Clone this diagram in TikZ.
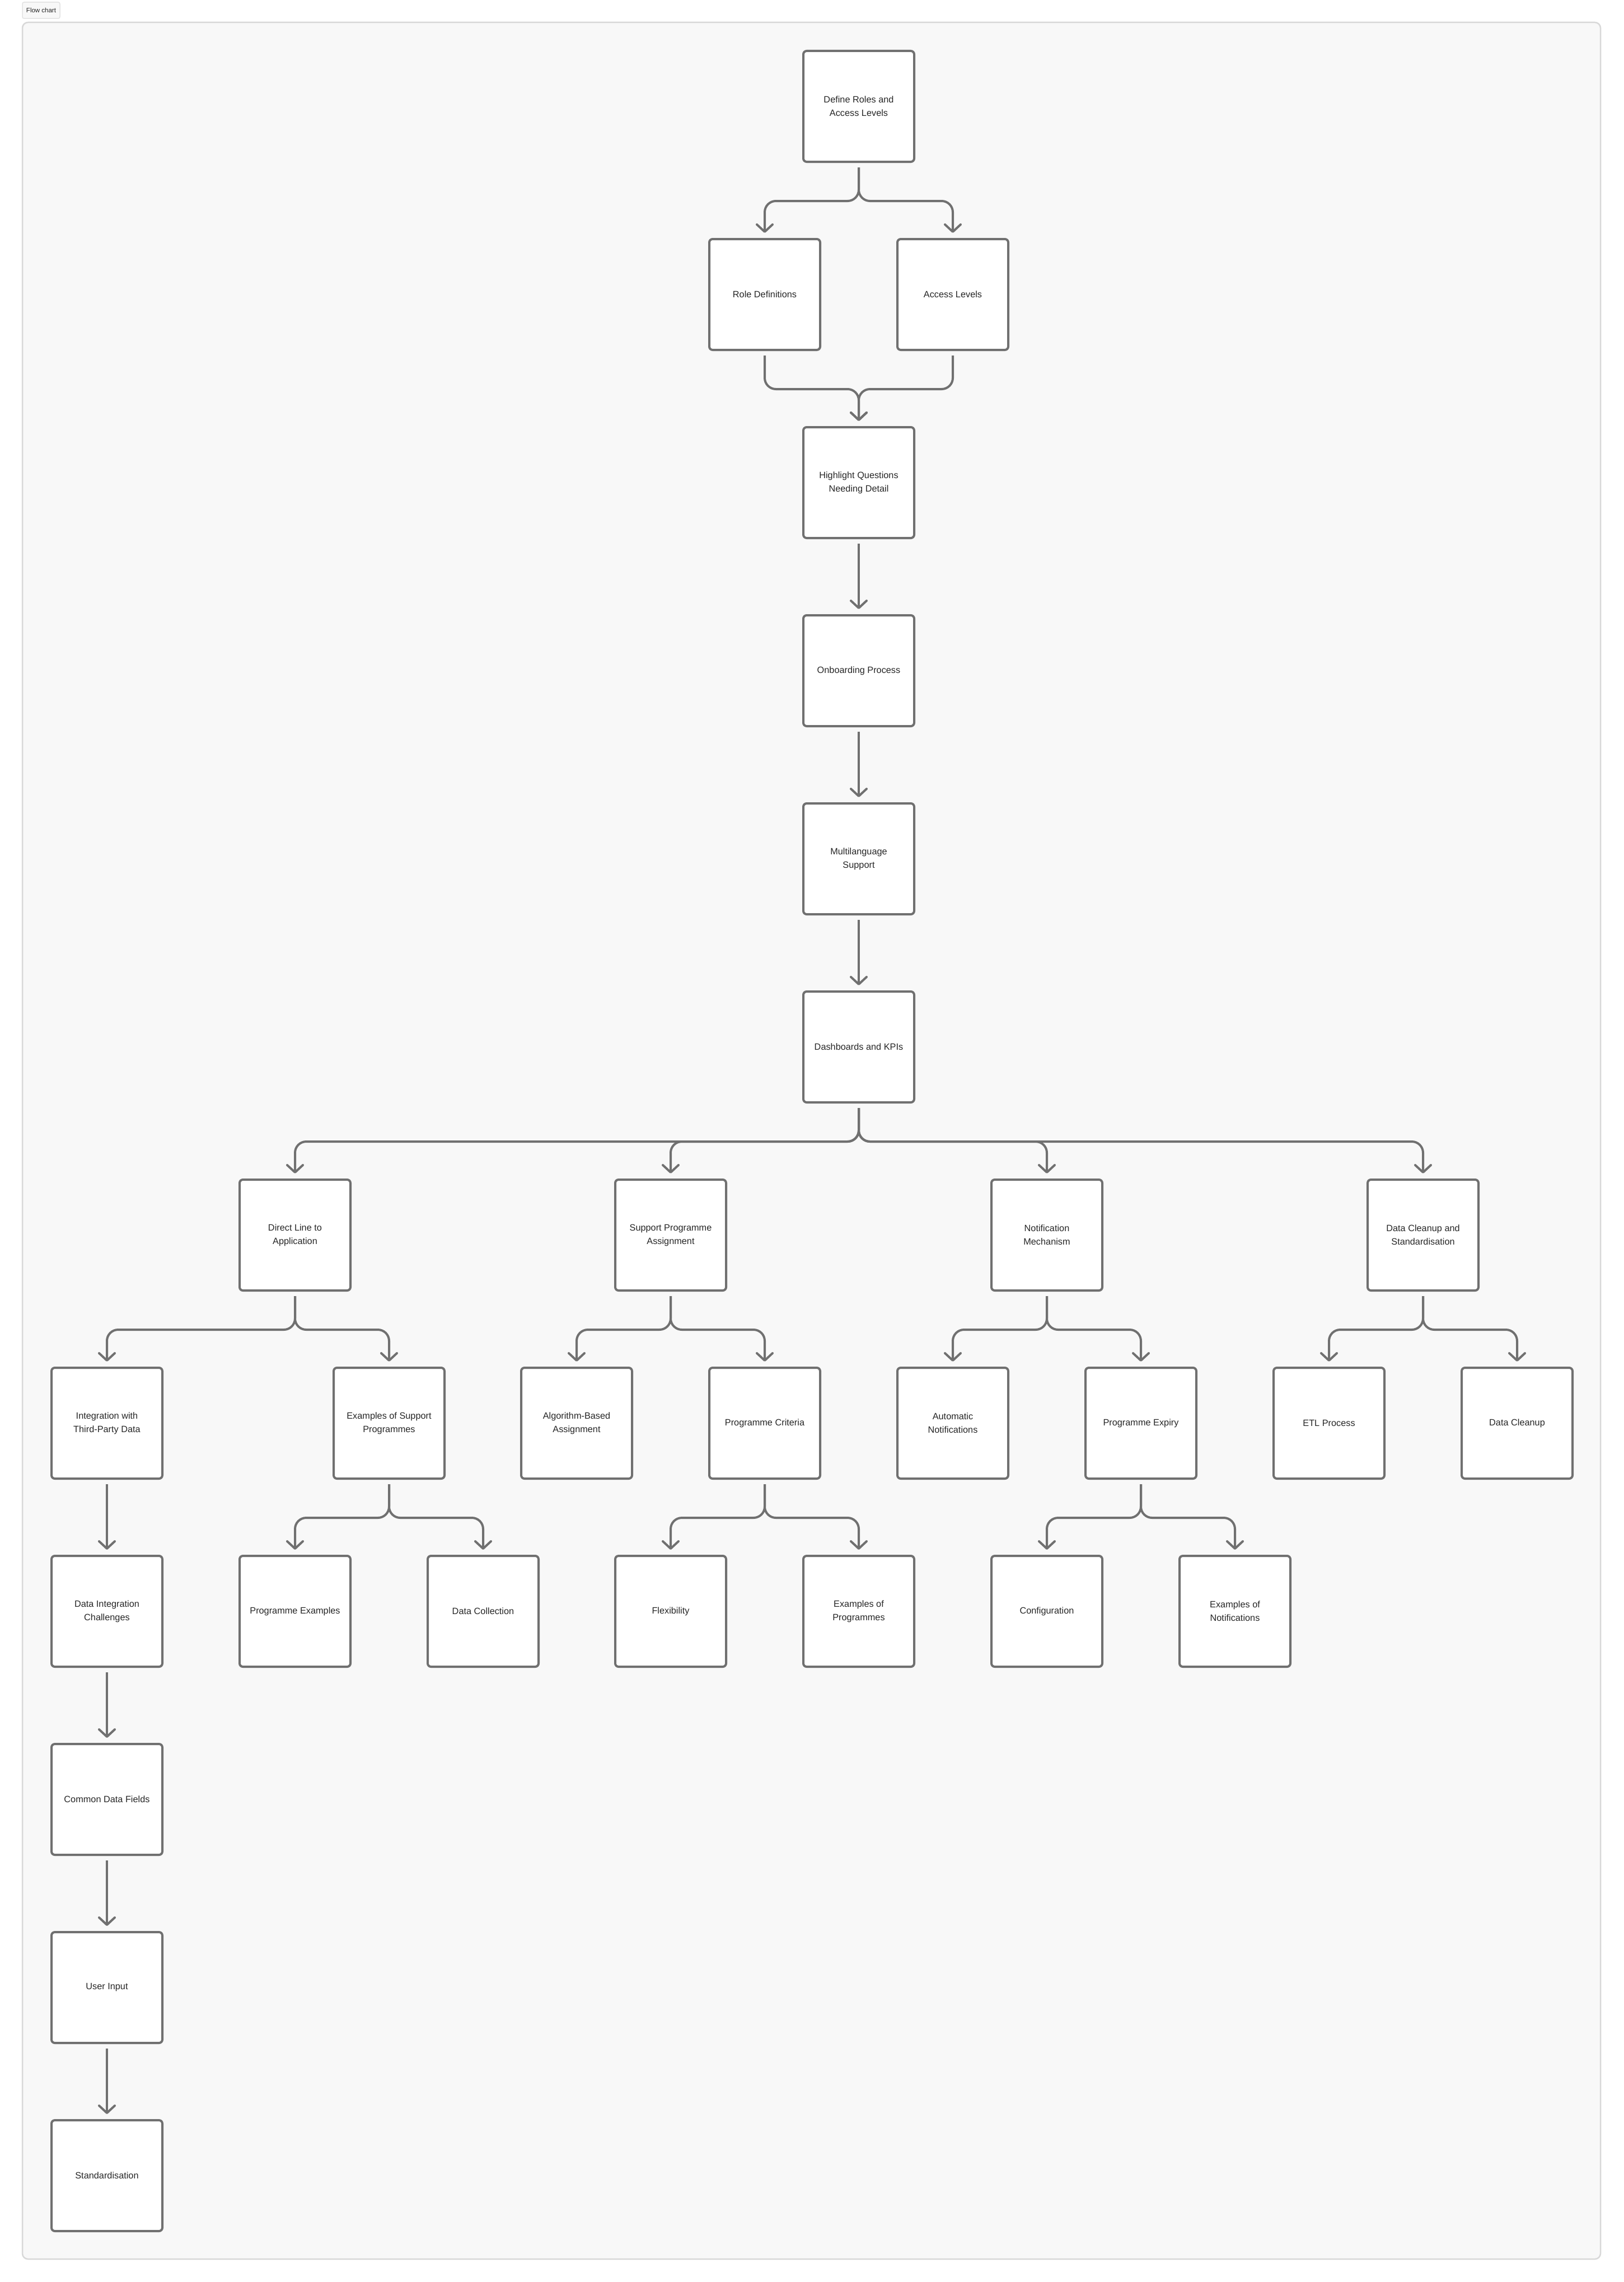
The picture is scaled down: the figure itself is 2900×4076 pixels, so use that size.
\documentclass[tikz,border=0pt]{standalone}
\usepackage{fontspec}
\setmainfont{Liberation Sans}
\usetikzlibrary{arrows.meta}
\definecolor{boxline}{HTML}{707070}
\definecolor{txt}{HTML}{262626}
\definecolor{bgfill}{HTML}{F8F8F8}
\definecolor{frameline}{HTML}{D8D8D8}
\definecolor{tagline}{HTML}{E2E2E2}
\begin{document}
\begin{tikzpicture}[x=1pt,y=-1pt,
  box/.style={draw=boxline, fill=white, line width=4pt, rounded corners=6pt,
    minimum width=198pt, minimum height=198pt, inner sep=0pt, align=center,
    font=\fontsize{16.3}{24}\selectfont, text=txt},
  conn/.style={draw=boxline, line width=4pt, rounded corners=20pt,
    -{Straight Barb[length=13pt,width=28pt,line width=4pt,round]}},
  sconn/.style={draw=boxline, line width=4pt,
    -{Straight Barb[length=13pt,width=28pt,line width=4pt,round]}}
]
\useasboundingbox (0,0) rectangle (2900,4076);
\fill[white] (0,0) rectangle (2900,4076);
% tag
\node[draw=tagline, fill=bgfill, line width=1.5pt, rounded corners=3pt,
  minimum width=67pt, minimum height=29pt, inner sep=0pt,
  font=\fontsize{11.5}{13}\selectfont, text=txt] (tag) at (73.5,18.5) {Flow chart};
% frame
\draw[frameline, fill=bgfill, line width=2.5pt, rounded corners=10pt] (40,40) rectangle (2859,4035);

% nodes
\node[box] (define) at (1534,190) {Define Roles and\\Access Levels};
\node[box] (roledef) at (1366,526) {Role Definitions};
\node[box] (access) at (1702,526) {Access Levels};
\node[box] (highlight) at (1534,862) {Highlight Questions\\Needing Detail};
\node[box] (onboard) at (1534,1198) {Onboarding Process};
\node[box] (multi) at (1534,1534) {Multilanguage\\Support};
\node[box] (dash) at (1534,1870) {Dashboards and KPIs};

\node[box] (direct) at (527,2206) {Direct Line to\\Application};
\node[box] (support) at (1198,2206) {Support Programme\\Assignment};
\node[box] (notif) at (1870,2206) {Notification\\Mechanism};
\node[box] (cleanup) at (2542,2206) {Data Cleanup and\\Standardisation};

\node[box] (integ) at (191,2542) {Integration with\\Third-Party Data};
\node[box] (exsupport) at (695,2542) {Examples of Support\\Programmes};
\node[box] (algo) at (1030,2542) {Algorithm-Based\\Assignment};
\node[box] (criteria) at (1366,2542) {Programme Criteria};
\node[box] (autonotif) at (1702,2542) {Automatic\\Notifications};
\node[box] (expiry) at (2038,2542) {Programme Expiry};
\node[box] (etl) at (2374,2542) {ETL Process};
\node[box] (dclean) at (2710,2542) {Data Cleanup};

\node[box] (dichall) at (191,2878) {Data Integration\\Challenges};
\node[box] (progex) at (527,2878) {Programme Examples};
\node[box] (datacoll) at (863,2878) {Data Collection};
\node[box] (flex) at (1198,2878) {Flexibility};
\node[box] (exprog) at (1534,2878) {Examples of\\Programmes};
\node[box] (config) at (1870,2878) {Configuration};
\node[box] (exnotif) at (2206,2878) {Examples of\\Notifications};

\node[box] (common) at (191,3214) {Common Data Fields};
\node[box] (userin) at (191,3550) {User Input};
\node[box] (stand) at (191,3886) {Standardisation};

% connectors
\newcommand\branchto[2]{\draw[conn] ([yshift=-8pt]#1.south) -- ++(0,60) -| ([yshift=9pt]#2.north);}
\newcommand\straightto[2]{\draw[sconn] ([yshift=-8pt]#1.south) -- ([yshift=9pt]#2.north);}

\branchto{define}{roledef}
\branchto{define}{access}
\branchto{roledef}{highlight}
\branchto{access}{highlight}
\straightto{highlight}{onboard}
\straightto{onboard}{multi}
\straightto{multi}{dash}
\branchto{dash}{direct}
\branchto{dash}{support}
\branchto{dash}{notif}
\branchto{dash}{cleanup}
\branchto{direct}{integ}
\branchto{direct}{exsupport}
\branchto{support}{algo}
\branchto{support}{criteria}
\branchto{notif}{autonotif}
\branchto{notif}{expiry}
\branchto{cleanup}{etl}
\branchto{cleanup}{dclean}
\straightto{integ}{dichall}
\straightto{dichall}{common}
\straightto{common}{userin}
\straightto{userin}{stand}
\branchto{exsupport}{progex}
\branchto{exsupport}{datacoll}
\branchto{criteria}{flex}
\branchto{criteria}{exprog}
\branchto{expiry}{config}
\branchto{expiry}{exnotif}
\end{tikzpicture}
\end{document}
